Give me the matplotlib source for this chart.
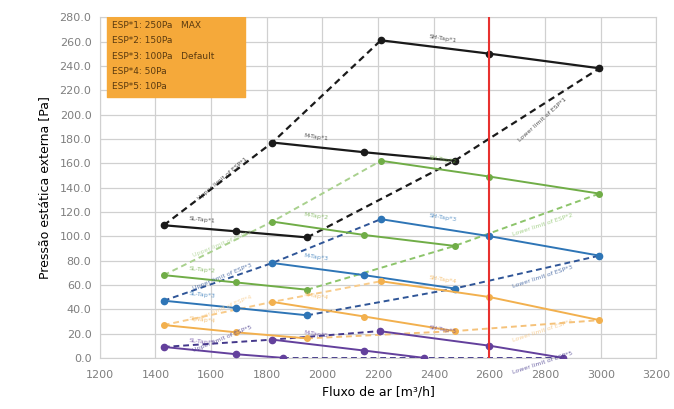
import matplotlib.pyplot as plt

# ESP*1 .. ESP*5, each with SL / M / SH tap curves (flow m3/h, pressure Pa)
sl_x = [1430, 1690, 1945]
m_x = [1820, 2150, 2475]
sh_x = [2210, 2600, 2995]

sl_y = {
    1: [109, 104, 99],
    2: [68, 62, 56],
    3: [47, 41, 35],
    4: [27, 21, 16],
    5: [9, 3, 0],
}
m_y = {
    1: [177, 169, 162],
    2: [112, 101, 92],
    3: [78, 68, 57],
    4: [46, 34, 22],
    5: [15, 6, 0],
}
sh_y = {
    1: [261, 250, 238],
    2: [162, 149, 135],
    3: [114, 100, 84],
    4: [63, 50, 31],
    5: [22, 10, 0],
}
# purple (ESP*5) curves stop where they hit 0 Pa
esp5_sl_x = [1430, 1690, 1860]
esp5_m_x = [1820, 2150, 2365]
esp5_sh_x = [2205, 2600, 2865]

legend_lines = ["ESP*1: 250Pa   MAX", "ESP*2: 150Pa", "ESP*3: 100Pa   Default",
                "ESP*4: 50Pa", "ESP*5: 10Pa"]

solid_colors = {1: "#1a1a1a", 2: "#70AD47", 3: "#2E75B6", 4: "#F2B04E", 5: "#63409C"}
upper_colors = {1: "#1a1a1a", 2: "#A9D18E", 3: "#2F5597", 4: "#F8CB8A", 5: "#45398C"}
lower_colors = {1: "#1a1a1a", 2: "#8CC46A", 3: "#2F5597", 4: "#F5C27A", 5: "#45398C"}

fig = plt.figure(figsize=(6.74, 4.09), dpi=100)
ax = fig.add_axes([0.148, 0.125, 0.826, 0.833])

for esp in range(1, 6):
    if esp == 5:
        xs = [esp5_sl_x, esp5_m_x, esp5_sh_x]
    else:
        xs = [sl_x, m_x, sh_x]
    ys = [sl_y[esp], m_y[esp], sh_y[esp]]
    lw = 1.6 if esp == 1 else 1.4
    ms = 4.5 if esp in (1, 3, 5) else 4
    # upper / lower limit dashed lines through first and last points
    ax.plot([x[0] for x in xs], [y[0] for y in ys], "--", color=upper_colors[esp],
            lw=lw, dashes=(3, 2), zorder=2)
    ax.plot([x[-1] for x in xs], [y[-1] for y in ys], "--", color=lower_colors[esp],
            lw=lw, dashes=(3, 2), zorder=2)
    for x, y in zip(xs, ys):
        ax.plot(x, y, "-o", color=solid_colors[esp], lw=lw, ms=ms,
                mfc=solid_colors[esp], mec=solid_colors[esp], zorder=3)

# tap labels
lbl = dict(fontsize=4.5, alpha=0.75)
for esp in range(1, 6):
    c = solid_colors[esp]
    ax.text(sl_x[0] + 90, sl_y[esp][0] + 2, f"SL-Tap*{esp}", color=c, rotation=-6, **lbl)
    ax.text(m_x[0] + 110, m_y[esp][0] + 2, f"M-Tap*{esp}", color=c, rotation=-8, **lbl)
    ax.text(sh_x[0] + 170, sh_y[esp][0] - 2, f"SH-Tap*{esp}", color=c, rotation=-9, **lbl)
    ax.text(1640, (sl_y[esp][0] + m_y[esp][0]) / 2 + 4, f"Upper limit of ESP*{esp}",
            color=upper_colors[esp], rotation=40 if esp == 1 else 22, ha="center", va="center", **lbl)
    ax.text(2790, (m_y[esp][2] + sh_y[esp][2]) / 2 - 4, f"Lower limit of ESP*{esp}",
            color=lower_colors[esp], rotation=42 if esp == 1 else 18, ha="center", va="center", **lbl)

# operating line at 2600 m3/h
ax.axvline(2600, color="#E8312F", lw=1.5, zorder=4)

# orange info box
ax.fill_between([1225, 1720], 214, 280, color="#F5A93A", zorder=5)
for i, line in enumerate(legend_lines):
    ax.text(1245, 273 - i * 12.5, line, fontsize=6.5, color="#5a3a10", va="center", zorder=6)

ax.set_xlim(1200, 3200)
ax.set_ylim(0, 280)
ax.set_xticks(range(1200, 3201, 200))
ax.set_yticks(range(0, 281, 20))
ax.set_yticklabels([f"{v:.1f}" for v in range(0, 281, 20)])
ax.tick_params(labelsize=8, colors="#7f7f7f", length=0)
ax.tick_params(axis="x", pad=9)
ax.tick_params(axis="y", pad=6)
ax.grid(True, color="#d0d0d0", lw=0.9)
ax.set_axisbelow(True)
for s in ax.spines.values():
    s.set_color("#d0d0d0")

ax.set_xlabel("Fluxo de ar [m³/h]", fontsize=9, labelpad=4)
ax.set_ylabel("Pressão estática externa [Pa]", fontsize=9, labelpad=6)

fig.savefig("out.png", dpi=100)
